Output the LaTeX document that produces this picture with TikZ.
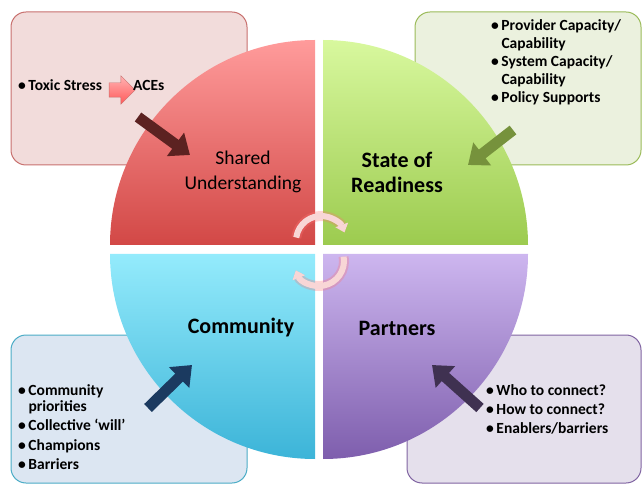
\documentclass[tikz,border=0pt]{standalone}
\usepackage{fontspec}
\setmainfont{Carlito}
\usetikzlibrary{arrows.meta,shapes.arrows}

\definecolor{redTop}{HTML}{FF9B9B}
\definecolor{redBot}{HTML}{D24846}
\definecolor{greenTop}{HTML}{D8F89E}
\definecolor{greenBot}{HTML}{9CCB4F}
\definecolor{cyanTop}{HTML}{94EBFC}
\definecolor{cyanBot}{HTML}{3CB4D8}
\definecolor{purpTop}{HTML}{CDB6EF}
\definecolor{purpBot}{HTML}{7E5EAD}
\definecolor{cycPink}{HTML}{F8D6D6}
% boxes
\definecolor{pinkFill}{HTML}{F2DCDB}
\definecolor{pinkLine}{HTML}{C8706E}
\definecolor{greenFill}{HTML}{EBF1DE}
\definecolor{greenLine}{HTML}{9BBB59}
\definecolor{blueFill}{HTML}{DCE6F2}
\definecolor{blueLine}{HTML}{4BACC6}
\definecolor{purpFill}{HTML}{E5E0EC}
\definecolor{purpLine}{HTML}{8064A2}
% arrows
\definecolor{tlArr}{HTML}{5C2221}
\definecolor{trArr}{HTML}{76923C}
\definecolor{blArr}{HTML}{1B3A60}
\definecolor{brArr}{HTML}{3F3151}

\tikzset{
	infobox/.style={rounded corners=15pt, line width=1pt},
	bigarrow/.style={line width=11pt, -{Triangle[length=18pt,width=28pt]}},
	cycarrow/.style={line width=6pt, draw=cycPink, -{Triangle[length=8pt,width=13pt]},
		preaction={draw=red!55, line width=10pt, opacity=.3}},
	quadtext/.style={font=\bfseries\fontsize{22}{25}\selectfont, align=center},
	bullets/.style={font=\bfseries\fontsize{15.5}{18}\selectfont, align=left, anchor=north west, inner sep=0pt}
}

\begin{document}
\begin{tikzpicture}[x=1pt,y=1pt]
	\useasboundingbox (0,0) rectangle (642,485);
%	\draw [help lines, step=50] (0,0) grid (642,485);
	% boxes behind the circle
	\draw [infobox, draw=pinkLine, fill=pinkFill] (11,320) rectangle (247,473);
	\draw [infobox, draw=greenLine, fill=greenFill] (415,320) rectangle (641,473);
	\draw [infobox, draw=blueLine, fill=blueFill] (11,2) rectangle (247,150);
	\draw [infobox, draw=purpLine, fill=purpFill] (407,2) rectangle (641,150);
	% quarters
	\shade [top color=redTop, bottom color=redBot] (315,240) -- ++(180:205) arc [start angle=180, end angle=90, radius=205] -- cycle;
	\shade [top color=greenTop, bottom color=greenBot] (323,240) -- ++(90:205) arc [start angle=90, end angle=0, radius=205] -- cycle;
	\shade [top color=cyanTop, bottom color=cyanBot] (315,231) -- ++(270:205) arc [start angle=270, end angle=180, radius=205] -- cycle;
	\shade [top color=purpTop, bottom color=purpBot] (323,231) -- ++(0:205) arc [start angle=360, end angle=270, radius=205] -- cycle;
	% cycle in the middle
	\draw [cycarrow] (321,244) ++(172:25) arc [start angle=172, end angle=20, radius=25];
	\draw [cycarrow] (319,224) ++(10:25) arc [start angle=10, end angle=-158, radius=25];
	% quarter titles
	\node [quadtext, font=\fontsize{19.5}{25}\selectfont] (shared) at (243,313) {Shared\\Understanding};
	\node [quadtext] (ready) at (397,313) {State of\\Readiness};
	\node [quadtext] (comm) at (241,157) {Community};
	\node [quadtext] (partn) at (397,157) {Partners};
	% box texts
	\node [bullets, anchor=base west] (toxic) at (18,394) {\textbullet\,Toxic Stress};
	\node [single arrow, draw=pinkLine, top color=red!30, bottom color=red!65!white, inner xsep=0pt, inner ysep=7pt,
		minimum height=26pt, single arrow head extend=7pt] (pinkarr) at (118.5,395) {};
	\node [bullets, anchor=base west] (aces) at (133,394) {ACEs};
	\node [bullets] (trList) at (491,466) {\textbullet\,Provider Capacity/\\\hphantom{\textbullet\,}Capability\\
		\textbullet\,System Capacity/\\\hphantom{\textbullet\,}Capability\\\textbullet\,Policy Supports};
	\node [bullets, font=\bfseries\fontsize{15.5}{16}\selectfont] (blList) at (18,101) {\textbullet\,Community\\\hphantom{\textbullet\,}priorities\\[3.5pt]
		\textbullet\,Collective `will'\\[3.5pt]\textbullet\,Champions\\[3.5pt]\textbullet\,Barriers};
	\node [bullets, font=\bfseries\fontsize{15.5}{19}\selectfont] (brList) at (486,101) {\textbullet\,Who to connect?\\
		\textbullet\,How to connect?\\\textbullet\,Enablers/barriers};
	% arrows into the quarters
	\coordinate (tlTail) at (138,368);
	\coordinate (tlTip) at (190,330);
	\coordinate (trTail) at (513,355);
	\coordinate (trTip) at (468,320);
	\coordinate (blTail) at (148,77);
	\coordinate (blTip) at (192,120);
	\coordinate (brTail) at (480,77);
	\coordinate (brTip) at (432,120);
	\draw [bigarrow, draw=tlArr] (tlTail) -- (tlTip);
	\draw [bigarrow, draw=trArr] (trTail) -- (trTip);
	\draw [bigarrow, draw=blArr] (blTail) -- (blTip);
	\draw [bigarrow, draw=brArr] (brTail) -- (brTip);
\end{tikzpicture}
\end{document}
